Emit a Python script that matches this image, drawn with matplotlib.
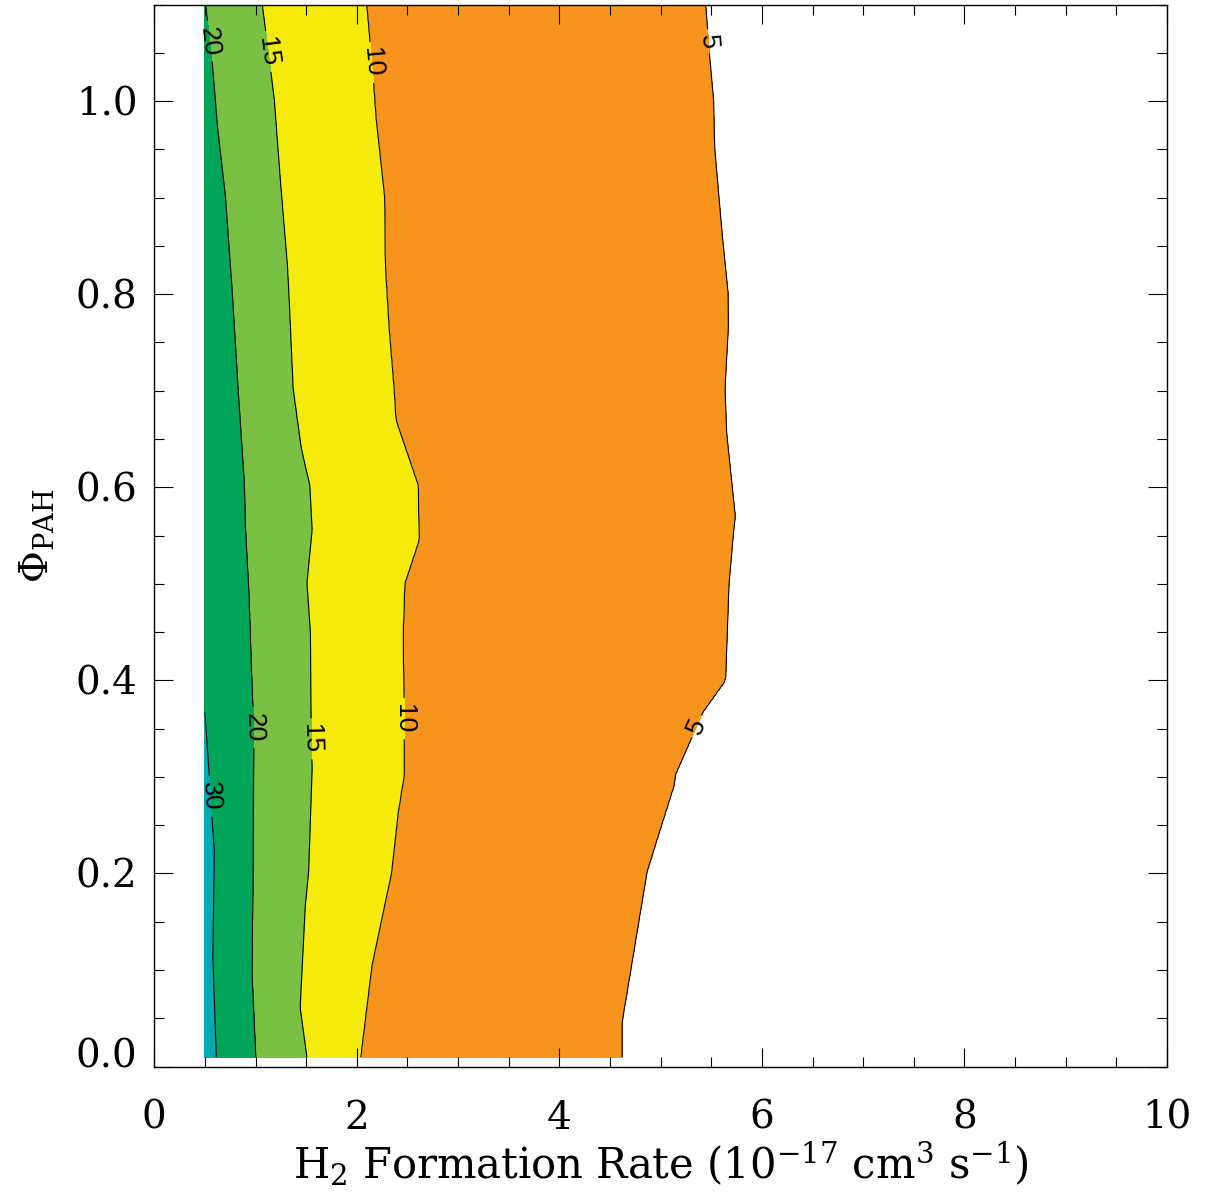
import numpy as np
import matplotlib
matplotlib.use('Agg')
import matplotlib.pyplot as plt
from matplotlib.ticker import MultipleLocator, FuncFormatter

plt.rcParams.update({
    'font.family': ['DejaVu Serif'],
    'mathtext.fontset': 'custom',
    'mathtext.rm': 'DejaVu Serif',
    'mathtext.it': 'DejaVu Serif:italic',
    'font.size': 28,
})

# contour lines (x = H2 rate, y = Phi_PAH), bottom to top
c5_y = [0.0098, 0.0469, 0.2024, 0.2554, 0.2907, 0.3031, 0.3402, 0.3667, 0.4003, 0.4992,
        0.5558, 0.5697, 0.6553, 0.7017, 0.7659, 0.8016, 0.8621, 0.9513, 1.0012, 1.0476, 1.1005]
c5_x = [4.620, 4.620, 4.866, 5.024, 5.131, 5.148, 5.303, 5.412, 5.641, 5.674,
        5.721, 5.737, 5.652, 5.635, 5.668, 5.665, 5.607, 5.533, 5.522, 5.482, 5.444]

c10_y = [0.0098, 0.1035, 0.1989, 0.2625, 0.3014, 0.3791, 0.4497, 0.5010, 0.5454, 0.6019,
         0.6696, 0.7017, 0.7659, 0.8265, 0.9014, 0.9834, 1.0192, 1.1005]
c10_x = [2.037, 2.147, 2.340, 2.407, 2.467, 2.464, 2.457, 2.474, 2.615, 2.605,
         2.385, 2.367, 2.317, 2.282, 2.272, 2.188, 2.164, 2.096]

c15_y = [0.0098, 0.0611, 0.1670, 0.2024, 0.3084, 0.3508, 0.4497, 0.5010, 0.5558, 0.6019,
         0.6410, 0.7017, 0.8016, 0.8300, 0.9157, 1.0010, 1.0300, 1.1005]
c15_x = [1.507, 1.440, 1.491, 1.524, 1.558, 1.548, 1.541, 1.507, 1.558, 1.535,
         1.450, 1.371, 1.328, 1.314, 1.246, 1.185, 1.151, 1.065]

c20_y = [0.0098, 0.0964, 0.2024, 0.3296, 0.3685, 0.4144, 0.4887, 0.5558, 0.6055, 0.7018,
         0.8015, 0.9014, 0.9728, 1.0387, 1.1005]
c20_x = [1.002, 0.965, 0.975, 0.982, 0.975, 0.958, 0.935, 0.901, 0.888, 0.827,
         0.770, 0.702, 0.624, 0.573, 0.505]

c30_y = [0.0098, 0.1140, 0.2236, 0.2554, 0.3120, 0.3667]
c30_x = [0.612, 0.578, 0.594, 0.572, 0.537, 0.500]

# value at the left data edge (x = 0.5)
edge_y = [0.0098, 0.3667, 1.1005]
edge_z = [34.0, 30.0, 20.3]

levels = [5, 10, 15, 20, 30, 50]
colors = ['#F7941E', '#F4EB0C', '#7AC143', '#00A55A', '#00AAB0']

# build the field on a grid so the filled contours land on the traced lines
xg = np.arange(0.5, 10.0001, 0.01)
yg = np.linspace(0.0098, 1.1005, 220)
Z = np.empty((len(yg), len(xg)))
for i, y in enumerate(yg):
    kx = [0.5]
    kz = [np.interp(y, edge_y, edge_z)]
    if y < c30_y[-1]:
        kx.append(np.interp(y, c30_y, c30_x)); kz.append(30)
    for cy, cx, lev in [(c20_y, c20_x, 20), (c15_y, c15_x, 15),
                        (c10_y, c10_x, 10), (c5_y, c5_x, 5)]:
        kx.append(np.interp(y, cy, cx)); kz.append(lev)
    kx.append(10.0); kz.append(1.0)
    Z[i] = np.interp(xg, kx, kz)
X, Y = np.meshgrid(xg, yg)

fig = plt.figure(figsize=(12.07, 11.95), dpi=100)
ax = fig.add_axes([0.1278, 0.1075, 0.8391, 0.8887])

ax.contourf(X, Y, Z, levels=levels, colors=colors)
cs = ax.contour(X, Y, Z, levels=levels[:-1], colors='k', linewidths=0.8)
label_pos = [(0.556, 1.062), (1.10, 1.051), (2.136, 1.040), (5.48, 1.062),
             (0.565, 0.280), (0.975, 0.3515), (1.548, 0.3395), (2.464, 0.3603), (5.343, 0.3526)]
lbls = ax.clabel(cs, fmt='%d', manual=label_pos, inline=True, fontsize=19, inline_spacing=4)
for t in lbls:
    t.set_fontfamily(['Liberation Sans', 'DejaVu Sans'])

ax.set_xlim(0, 10)
ax.set_ylim(0, 1.1)
ax.xaxis.set_major_locator(MultipleLocator(2))
ax.xaxis.set_minor_locator(MultipleLocator(0.5))
ax.yaxis.set_major_locator(MultipleLocator(0.2))
ax.yaxis.set_minor_locator(MultipleLocator(0.05))
ax.xaxis.set_major_formatter(FuncFormatter(lambda v, p: f'{v:g}'))
ax.yaxis.set_major_formatter(FuncFormatter(lambda v, p: '' if abs(v) < 1e-9 else f'{v:.1f}'))
ax.tick_params(which='both', direction='in', top=True, right=True, width=0.8)
ax.tick_params(which='major', length=14)
ax.tick_params(which='minor', length=7)
ax.tick_params(axis='x', which='major', pad=24)
ax.tick_params(axis='y', which='major', pad=12)
for s in ax.spines.values():
    s.set_linewidth(1.0)

# the lowest y label sits a little above its tick in the original
ax.annotate('0.0', xy=(0, 0), xycoords=('axes fraction', 'data'), xytext=(-12, 7),
            textcoords='offset points', ha='right', va='center', fontsize=28)

ax.set_xlabel('H$_2$ Formation Rate (10$^{-17}$ cm$^3$ s$^{-1}$)', fontsize=30, labelpad=2)
ax.set_ylabel(r'$\Phi_{\rm PAH}$', labelpad=14)

fig.savefig('out.png', dpi=100)
